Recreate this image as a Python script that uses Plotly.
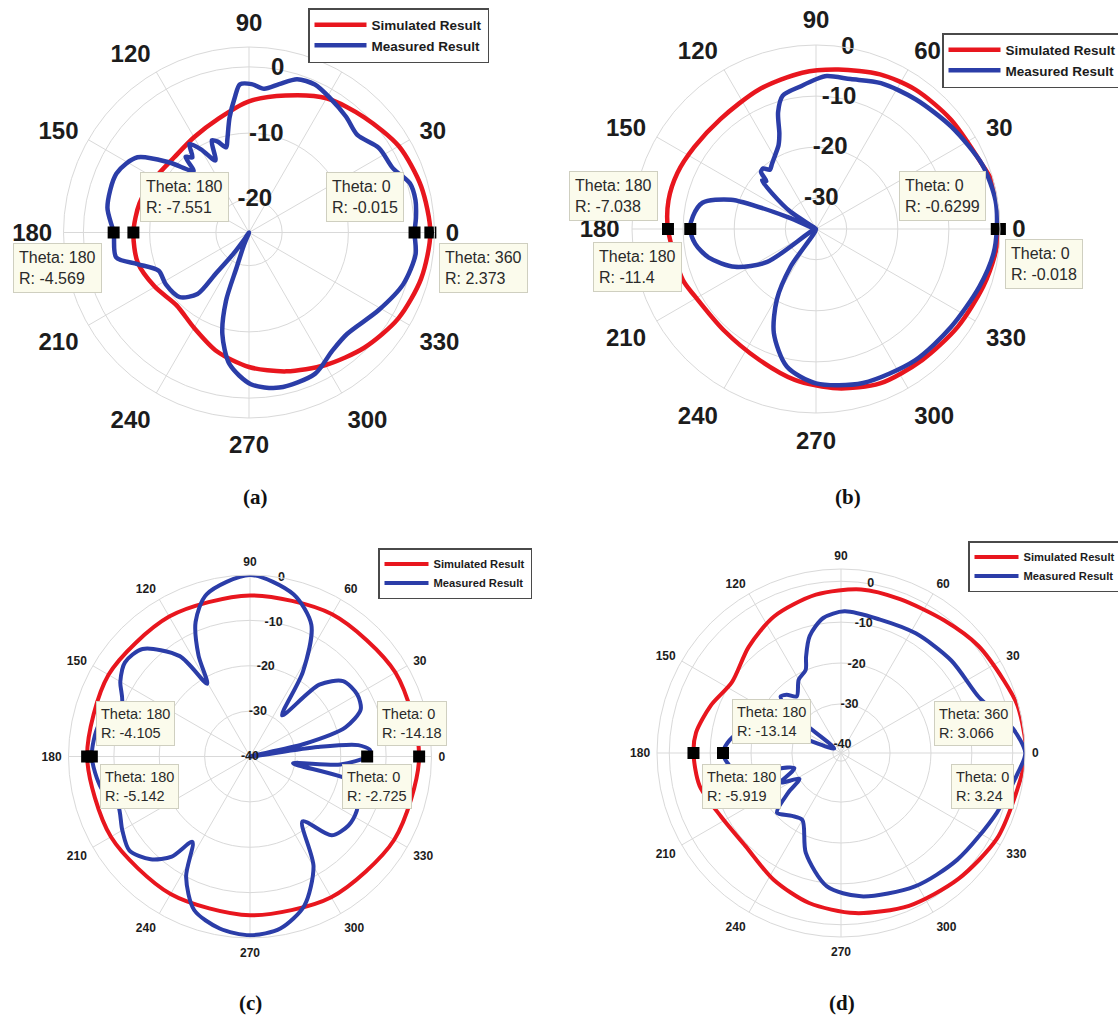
import plotly.graph_objects as go

W, H = 1118, 1017

# ---------------- data (dB) ----------------
# Panel (a)
A_SIM_T = [0, 15, 30, 45, 60, 75, 90, 105, 120, 135, 150, 165, 180, 195, 210, 225, 240, 255, 270, 285, 300, 315, 330, 345, 360]
A_SIM_R = [2.373, 1.9, 1.1, -0.4, -1.6, -3.6, -5.2, -7.2, -8.4, -9.0, -8.6, -7.9, -7.551, -7.6, -8.6, -9.5, -8.4, -6.4, -4.7, -3.3, -1.9, -0.4, 1.0, 1.9, 2.373]
A_MEAS_T = [0, 5, 11, 17, 24, 33, 42, 50, 59, 66, 72.6, 78.5, 84, 89, 93.5, 96, 99.6, 103, 105, 109, 112, 115, 120, 124, 127, 130, 132, 138.7, 146, 156, 170, 180, 190.6, 195.8, 203, 212, 223, 230, 231, 233.6, 236, 242, 248, 250.5, 251.4, 255.3, 261.6, 270.7, 281, 295, 305, 314, 329, 341.5, 352.6, 360]
A_MEAS_R = [-0.015, 0.3, 0.6, 0.4, -1.2, -1.6, -3.0, -2.2, -1.3, -0.55, -0.75, -2.15, -3.2, -2.6, -2.6, -4.5, -7.4, -10.5, -11.7, -10.5, -10.0, -13.0, -10.5, -8.9, -10.8, -10.1, -12.5, -9.0, -4.7, -3.1, -3.3, -4.569, -4.6, -7.5, -10.2, -10.2, -10.7, -12.9, -16.9, -20.9, -24.0, -25.0, -23.0, -19.4, -14.1, -9.15, -4.9, -2.1, -1.15, -1.45, -3.15, -3.7, -2.2, -0.44, 0.36, -0.015]
A_TIP_T = [180, 0, 180, 360]
A_TIP_R = [-7.551, -0.015, -4.569, 2.373]

# Panel (b)
B_SIM_T = [0, 13, 21, 39, 54.5, 67.5, 82, 95, 112, 131, 146, 158, 169, 180, 201, 209, 227.5, 246.5, 262, 277.6, 292.5, 309, 325.5, 341, 352, 360]
B_SIM_R = [-0.018, 0.0, -1.1, -2.0, -2.5, -3.25, -4.5, -5.3, -6.5, -7.5, -7.3, -6.75, -6.6, -7.038, -8.1, -8.9, -9.2, -8.1, -6.2, -4.55, -3.3, -3.0, -2.3, -1.4, -0.6, -0.018]
B_MEAS_T = [0, 9, 21, 37, 52.5, 66, 77, 86, 90, 96, 104, 108, 111, 114, 119, 124, 128, 131, 134, 136, 138, 141, 146, 152, 157, 161, 167, 174, 180, 187, 195, 205, 214, 225, 236, 241, 248, 258, 270, 287, 307, 324, 340.6, 352, 360]
B_MEAS_R = [-0.6299, -0.43, -1.1, -2.8, -4.0, -4.75, -5.9, -6.0, -6.7, -7.9, -9.1, -12.0, -16.0, -18.0, -19.5, -20.6, -21.3, -20.3, -20.5, -22.5, -21.8, -25.0, -30.0, -36.0, -30.0, -18.4, -13.2, -11.8, -11.4, -12.2, -14.3, -18.5, -24.5, -36.0, -27.2, -20.2, -14.0, -8.5, -5.8, -4.5, -3.8, -3.35, -2.1, -0.95, -0.6299]
B_TIP_T = [180, 180, 0, 0]
B_TIP_R = [-7.038, -11.4, -0.6299, -0.018]

# Panel (c)
C_SIM_T = [0, 30, 60, 90, 120, 150, 180, 210, 240, 270, 300, 330, 360]
C_SIM_R = [-2.725, -3.0, -3.8, -4.5, -4.4, -4.0, -4.105, -4.6, -5.0, -5.0, -4.2, -3.3, -2.725]
C_MEAS_T = [0, 3, 6, 8, 10, 13, 17, 23, 30, 39, 46, 52, 58, 65, 75, 90, 105, 112, 117, 120.5, 125, 135, 143, 150, 158, 168, 180, 192, 200, 210, 218, 226, 232, 236, 242, 250, 260, 270, 280, 290, 300, 309, 316, 325, 333, 340, 346, 351, 355, 360]
C_MEAS_R = [-14.18, -13.5, -16.0, -25.0, -40.0, -28.0, -18.0, -13.5, -12.7, -13.6, -18.0, -28.5, -18.0, -8.0, -3.0, 0.0, -3.0, -8.0, -15.0, -21.4, -13.0, -6.5, -5.5, -7.0, -9.5, -6.0, -5.142, -6.5, -9.0, -7.5, -6.3, -8.5, -12.0, -17.3, -10.0, -4.0, -1.5, -0.6, -1.5, -5.0, -12.0, -21.6, -15.0, -13.5, -13.6, -14.5, -16.0, -30.4, -20.0, -14.18]
C_TIP_T = [180, 180, 0, 0]
C_TIP_R = [-4.105, -5.142, -14.18, -2.725]

# Panel (d)
D_SIM_T = [0, 15, 24, 38, 52, 69, 83, 99, 116, 131, 147, 160, 172, 180, 193, 208, 224, 242, 258, 275, 294, 313, 331, 345, 360]
D_SIM_R = [3.24, 2.7, 1.6, 0.6, -0.9, -1.7, -1.7, -2.8, -4.8, -7.6, -10.2, -8.1, -6.2, -5.919, -6.5, -8.8, -9.4, -6.9, -4.5, -2.7, -1.1, 0.1, 1.5, 1.8, 3.24]
D_MEAS_T = [0, 8, 15, 22, 40, 58, 74, 88.6, 97.5, 105, 110, 113, 120, 128, 133, 137, 141, 146, 160, 170, 180, 190, 198, 206, 212, 217, 223, 232, 240, 250.6, 264, 278, 299, 317.5, 339, 353.5, 360]
D_MEAS_R = [3.066, 0.5, -3.0, -5.6, -6.8, -7.5, -8.0, -7.35, -8.7, -12.4, -17.0, -19.9, -21.3, -24.4, -22.5, -21.8, -28.0, -40.0, -30.0, -16.0, -13.14, -16.0, -30.0, -25.6, -30.0, -25.8, -20.6, -22.5, -23.1, -16.1, -9.2, -6.6, -4.7, -3.4, -1.2, 1.5, 3.066]
D_TIP_T = [180, 180, 360, 0]
D_TIP_R = [-13.14, -5.919, 3.066, 3.24]

ANG_TICKS = [0, 30, 60, 90, 120, 150, 180, 210, 240, 270, 300, 330]
R_TICKS = {"a": [-20, -10, 0], "b": [-30, -20, -10, 0], "c": [-40, -30, -20, -10, 0], "d": [-40, -30, -20, -10, 0]}
R_LABEL_ANGLE = 80
SERIES_NAMES = ["Simulated Result", "Measured Result"]
PANEL_LABELS = ["(a)", "(b)", "(c)", "(d)"]

RED = "#E8161E"
BLUE = "#2B3DA8"
GRID = "#d9d9d9"
FONT = "Liberation Sans"

# ---------------- layout geometry (pixels) ----------------
panels = [
    dict(data=(A_SIM_T, A_SIM_R, A_MEAS_T, A_MEAS_R, A_TIP_T, A_TIP_R),
         c=(249, 232.5), R=185.5, rng=[-25, 3], rt=R_TICKS["a"],
         afs=24, rfs=24, tl=6, leg=(308, 8), lfs=13.5, iw=52, tfs=16, tpad=5,
         tips=[(184.5, 197.5), (365, 197.5), (57, 267.5), (483.5, 267.5)],
         lab=(255, 497)),
    dict(data=(B_SIM_T, B_SIM_R, B_MEAS_T, B_MEAS_R, B_TIP_T, B_TIP_R),
         c=(816, 229), R=184, rng=[-36, 0], rt=R_TICKS["b"],
         afs=24, rfs=24, tl=7, leg=(942, 33), lfs=13.5, iw=52, tfs=16, tpad=5,
         tips=[(613, 195.5), (637.5, 266.5), (942, 196), (1043.5, 264)],
         lab=(848, 497)),
    dict(data=(C_SIM_T, C_SIM_R, C_MEAS_T, C_MEAS_R, C_TIP_T, C_TIP_R),
         c=(250, 756.5), R=181.5, rng=[-40, 0], rt=R_TICKS["c"],
         afs=12, rfs=12.5, tl=4, leg=(378, 548), lfs=11.2, iw=44, tfs=14.5, tpad=4,
         tips=[(135, 723.5), (139, 786.5), (412, 723.5), (377, 786.5)],
         lab=(250, 1003)),
    dict(data=(D_SIM_T, D_SIM_R, D_MEAS_T, D_MEAS_R, D_TIP_T, D_TIP_R),
         c=(841, 753), R=184, rng=[-42, 3], rt=R_TICKS["d"],
         afs=12, rfs=12.5, tl=4, leg=(968, 541), lfs=11.2, iw=44, tfs=14.5, tpad=4,
         tips=[(771, 721.5), (741, 786.5), (973, 723.5), (982, 786.5)],
         lab=(842, 1003)),
]


def fx(x):
    return x / W


def fy(y):
    return 1 - y / H


fig = go.Figure()
layout = dict(width=W, height=H, margin=dict(l=0, r=0, t=0, b=0, autoexpand=False),
              paper_bgcolor="white", plot_bgcolor="white", annotations=[])

for i, p in enumerate(panels):
    k = "" if i == 0 else str(i + 1)
    sub = "polar" + k
    legname = "legend" + k
    st, sr, mt, mr, tt, tr = p["data"]
    lw = 4.5 if i < 2 else 4
    fig.add_trace(go.Scatterpolar(theta=st, r=sr, mode="lines", name=SERIES_NAMES[0],
                                  line=dict(color=RED, width=lw, shape="spline", smoothing=0.8),
                                  subplot=sub, legend=legname, hoverinfo="skip"))
    fig.add_trace(go.Scatterpolar(theta=mt, r=mr, mode="lines", name=SERIES_NAMES[1],
                                  line=dict(color=BLUE, width=lw, shape="spline", smoothing=0.8),
                                  subplot=sub, legend=legname, hoverinfo="skip"))
    fig.add_trace(go.Scatterpolar(theta=tt, r=tr, mode="markers", showlegend=False,
                                  marker=dict(symbol="square", size=12, color="black"),
                                  subplot=sub, hoverinfo="skip"))
    # radial tick labels placed along the 80-degree ray, at the tick radii
    fig.add_trace(go.Scatterpolar(theta=[R_LABEL_ANGLE] * len(p["rt"]), r=p["rt"], mode="text",
                                  text=[str(v) for v in p["rt"]], textposition="middle center",
                                  textfont=dict(family=FONT, size=p["rfs"], color="#1c1c1c", weight="bold"),
                                  showlegend=False, cliponaxis=False, subplot=sub, hoverinfo="skip"))
    cx, cy = p["c"]
    R = p["R"]
    layout[sub] = dict(
        domain=dict(x=[fx(cx - R), fx(cx + R)], y=[fy(cy + R), fy(cy - R)]),
        bgcolor="white",
        angularaxis=dict(rotation=0, direction="counterclockwise",
                         tickmode="array", tickvals=ANG_TICKS,
                         ticktext=[str(v) for v in ANG_TICKS],
                         showgrid=True, gridcolor=GRID, gridwidth=1,
                         showline=True, linecolor=GRID, linewidth=1,
                         ticks="outside", ticklen=p["tl"], tickcolor="rgba(0,0,0,0)",
                         tickfont=dict(family=FONT, size=p["afs"], color="#1c1c1c", weight="bold")),
        radialaxis=dict(range=p["rng"], tickmode="array", tickvals=p["rt"],
                        showticklabels=False, angle=R_LABEL_ANGLE,
                        showline=False, ticks="",
                        showgrid=True, gridcolor=GRID, gridwidth=1),
    )
    lx, ly = p["leg"]
    layout[legname] = dict(x=fx(lx), y=fy(ly), xanchor="left", yanchor="top",
                           bgcolor="white", bordercolor="#4a4a4a", borderwidth=1.5,
                           font=dict(family=FONT, size=p["lfs"], color="#1c1c1c", weight="bold"),
                           itemwidth=p["iw"], tracegroupgap=0)
    for (bx, by), t, r in zip(p["tips"], tt, tr):
        layout["annotations"].append(dict(
            x=fx(bx), y=fy(by), xref="paper", yref="paper", showarrow=False,
            text=f"Theta: {t}<br>R: {r}", align="left",
            xanchor="center", yanchor="middle",
            font=dict(family=FONT, size=p["tfs"], color="#2a2a2a"),
            bgcolor="#FBFBEC", bordercolor="#CFCFC0", borderwidth=1, borderpad=p["tpad"]))
    lbx, lby = p["lab"]
    layout["annotations"].append(dict(
        x=fx(lbx), y=fy(lby), xref="paper", yref="paper", showarrow=False,
        text=PANEL_LABELS[i], xanchor="center", yanchor="middle",
        font=dict(family="Liberation Serif", size=21, color="#111111", weight="bold")))

fig.update_layout(**layout)
fig.write_html("out.html", config={"displayModeBar": False},
               post_script="document.body.style.margin='0px';")
